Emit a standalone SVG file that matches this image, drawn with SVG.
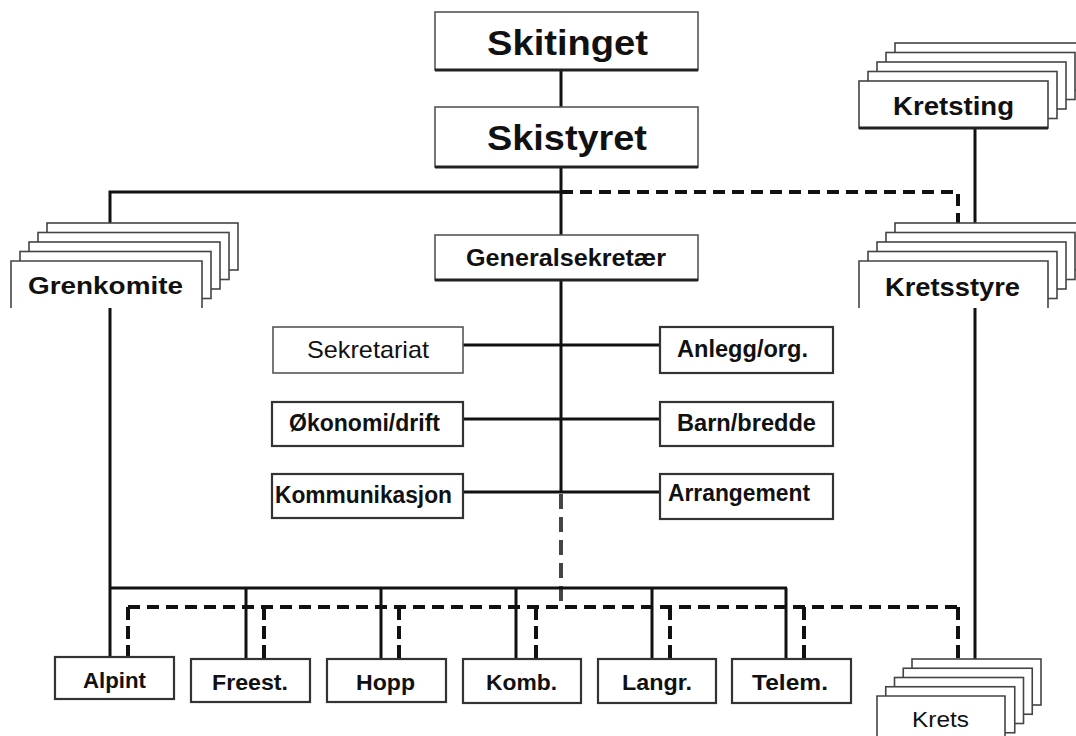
<svg xmlns="http://www.w3.org/2000/svg" width="1076" height="736" viewBox="0 0 1076 736">
<style>
.bx{fill:#fff;stroke:#555;stroke-width:1.6}
.bd{fill:#fff;stroke:#333;stroke-width:2.2}
.sh{stroke:#222;stroke-width:3;fill:none}
.ly{fill:#fff;stroke:#444;stroke-width:1.6}
.ln{stroke:#111;stroke-width:3;fill:none}
.dl{stroke:#111;stroke-width:4;fill:none;stroke-dasharray:12 7}
.dv{stroke:#111;stroke-width:4;fill:none;stroke-dasharray:13 6}
.dg{stroke:#444;stroke-width:4;fill:none;stroke-dasharray:15 8}
text{font-family:"Liberation Sans",Arial,sans-serif;fill:#111}
.b{font-weight:bold}
</style>
<rect width="1076" height="736" fill="#fff"/>
<g id="connectors">
<path class="ln" d="M561,70V107M561,167V235M561,280V492"/>
<path class="ln" d="M110,223V192H561"/>
<path class="dl" d="M561,192H958V223"/>
<path class="ln" d="M975,128V223M975,308V659"/>
<path class="ln" d="M110,308V658"/>
<path class="ln" d="M463,345H660M463,419H660M463,492H660"/>
<path class="dg" d="M561,494V607"/>
<path class="ln" d="M110,588H787M246,588V659M381,588V659M516,588V659M652,588V659M786,588V659"/>
<path class="dl" d="M128,607H958"/>
<path class="dv" d="M128,607V657M264,607V659M399,607V659M536,607V659M670,607V659M804,607V659M958,607V659"/>
</g>
<g id="skitinget">
<rect class="bx" x="435" y="12" width="263" height="58"/>
<path class="sh" d="M435,70H698"/>
<text class="b" x="487" y="55" font-size="35" textLength="161" lengthAdjust="spacingAndGlyphs">Skitinget</text>
</g>
<g id="skistyret">
<rect class="bx" x="435" y="107" width="263" height="60"/>
<path class="sh" d="M435,167H698"/>
<text class="b" x="487" y="150" font-size="35" textLength="160" lengthAdjust="spacingAndGlyphs">Skistyret</text>
</g>
<g id="kretsting">
<rect class="ly" x="895" y="43" width="189" height="47"/>
<rect class="ly" x="886" y="52.5" width="189" height="47"/>
<rect class="ly" x="877" y="62" width="189" height="47"/>
<rect class="ly" x="868" y="71.5" width="189" height="47"/>
<rect class="ly" x="859" y="81" width="189" height="47"/>
<path class="sh" d="M859,128H1048" stroke-width="2"/>
<text class="b" x="893" y="115" font-size="25" textLength="121" lengthAdjust="spacingAndGlyphs">Kretsting</text>
</g>
<g id="kretsstyre">
<rect class="ly" x="895" y="223" width="189" height="47"/>
<rect class="ly" x="886" y="232.5" width="189" height="47"/>
<rect class="ly" x="877" y="242" width="189" height="47"/>
<rect class="ly" x="868" y="251.5" width="189" height="47"/>
<rect x="859" y="261" width="189" height="47" fill="#fff"/>
<path class="ly" d="M859,308V261H1048V308"/>
<text class="b" x="885" y="296" font-size="25" textLength="135" lengthAdjust="spacingAndGlyphs">Kretsstyre</text>
</g>
<g id="grenkomite">
<rect class="ly" x="47" y="223" width="191" height="47"/>
<rect class="ly" x="38" y="232.5" width="191" height="47"/>
<rect class="ly" x="29" y="242" width="191" height="47"/>
<rect class="ly" x="20" y="251.5" width="191" height="47"/>
<rect x="11" y="261" width="191" height="47" fill="#fff"/>
<path class="ly" d="M11,308V261H202V308"/>
<text class="b" x="28" y="294" font-size="24" textLength="155" lengthAdjust="spacingAndGlyphs">Grenkomite</text>
</g>
<g id="generalsekretaer">
<rect class="bx" x="435" y="235" width="263" height="45"/>
<path class="sh" d="M435,280H698" stroke-width="2.4"/>
<text class="b" x="466" y="266" font-size="23" textLength="200" lengthAdjust="spacingAndGlyphs">Generalsekretær</text>
</g>
<g id="sekretariat">
<rect class="bx" x="273" y="327" width="190" height="46"/>
<text x="307" y="358" font-size="24" textLength="122" lengthAdjust="spacingAndGlyphs">Sekretariat</text>
</g>
<g id="okonomi">
<rect class="bd" x="272" y="402" width="191" height="44"/>
<text class="b" x="289" y="431" font-size="23" textLength="151" lengthAdjust="spacingAndGlyphs">Økonomi/drift</text>
</g>
<g id="kommunikasjon">
<rect class="bd" x="272" y="474" width="191" height="44"/>
<text class="b" x="275" y="503" font-size="23" textLength="177" lengthAdjust="spacingAndGlyphs">Kommunikasjon</text>
</g>
<g id="anlegg">
<rect class="bd" x="660" y="327" width="173" height="46"/>
<text class="b" x="677" y="357" font-size="23" textLength="131" lengthAdjust="spacingAndGlyphs">Anlegg/org.</text>
</g>
<g id="barn">
<rect class="bd" x="660" y="402" width="173" height="44"/>
<text class="b" x="677" y="431" font-size="23" textLength="139" lengthAdjust="spacingAndGlyphs">Barn/bredde</text>
</g>
<g id="arrangement">
<rect class="bd" x="660" y="474" width="173" height="45"/>
<text class="b" x="668" y="501" font-size="23" textLength="142" lengthAdjust="spacingAndGlyphs">Arrangement</text>
</g>
<g id="alpint">
<rect class="bd" x="55" y="657" width="119" height="42"/>
<text class="b" x="83" y="688" font-size="22" textLength="63" lengthAdjust="spacingAndGlyphs">Alpint</text>
</g>
<g id="freest">
<rect class="bd" x="191" y="659" width="119" height="43"/>
<text class="b" x="212" y="690" font-size="22" textLength="76" lengthAdjust="spacingAndGlyphs">Freest.</text>
</g>
<g id="hopp">
<rect class="bd" x="327" y="659" width="119" height="43"/>
<text class="b" x="356" y="690" font-size="22" textLength="59" lengthAdjust="spacingAndGlyphs">Hopp</text>
</g>
<g id="komb">
<rect class="bd" x="463" y="659" width="118" height="44"/>
<text class="b" x="486" y="690" font-size="22" textLength="71" lengthAdjust="spacingAndGlyphs">Komb.</text>
</g>
<g id="langr">
<rect class="bd" x="598" y="659" width="118" height="44"/>
<text class="b" x="622" y="690" font-size="22" textLength="70" lengthAdjust="spacingAndGlyphs">Langr.</text>
</g>
<g id="telem">
<rect class="bd" x="732" y="659" width="119" height="44"/>
<text class="b" x="752" y="690" font-size="22" textLength="76" lengthAdjust="spacingAndGlyphs">Telem.</text>
</g>
<g id="krets">
<rect class="ly" x="912" y="659" width="129" height="46"/>
<rect class="ly" x="903.25" y="668.25" width="129" height="46"/>
<rect class="ly" x="894.5" y="677.5" width="129" height="46"/>
<rect class="ly" x="885.75" y="686.75" width="129" height="46"/>
<rect x="877" y="696" width="128" height="46" fill="#fff"/>
<path class="ly" d="M877,742V696H1005V742"/>
<text x="912" y="727" font-size="22" textLength="57" lengthAdjust="spacingAndGlyphs">Krets</text>
</g>
</svg>
